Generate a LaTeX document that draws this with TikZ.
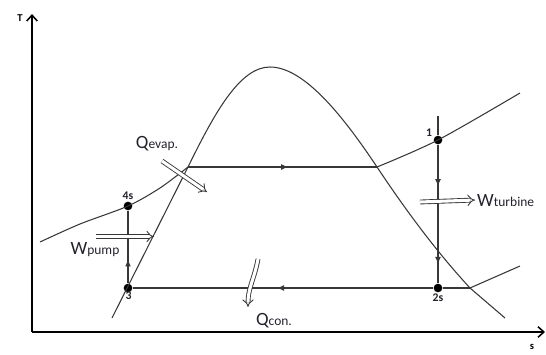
\documentclass[tikz,border=0pt]{standalone}
\usepackage{fontspec}
\setmainfont{Carlito}
\usetikzlibrary{arrows.meta, positioning, decorations.markings}
\definecolor{linegray}{RGB}{55, 55, 55}
\definecolor{txtgray}{RGB}{35, 35, 45}
\newcommand{\enlabel}[2]{{\fontsize{16}{16}\selectfont #1}{\fontsize{11.5}{12}\selectfont #2}}

\begin{document}
\begin{tikzpicture}[
    x=0.03cm, y=-0.03cm,
    axis/.style={line width=1.3pt, -{Straight Barb[length=5pt, width=9pt]}},
    curve/.style={line width=0.9pt, linegray},
    state/.style={circle, fill=black, inner sep=0pt, minimum size=2.6mm},
    statelbl/.style={font=\fontsize{10}{12}\selectfont\bfseries, text=txtgray, inner sep=1pt},
    axlbl/.style={font=\fontsize{9}{10}\selectfont\bfseries, inner sep=0pt},
    enlbl/.style={text=txtgray, inner sep=0pt},
    energy/.style={double=white, double distance=2.6pt, line width=0.75pt, draw=linegray, -{Implies}},
    midarrow/.style={postaction={decorate}, decoration={markings,
        mark=at position #1 with {\arrow{Latex[length=6pt, width=5pt]}}}},
    twoarrows/.style 2 args={postaction={decorate}, decoration={markings,
        mark=at position #1 with {\arrow{Latex[length=6pt, width=5pt]}},
        mark=at position #2 with {\arrow{Latex[length=6pt, width=5pt]}}}}
]
    \useasboundingbox (0,0) rectangle (546,354);

    % Axes
    \coordinate (origin) at (32,332);
    \coordinate (Ttip) at (32,14);
    \coordinate (stip) at (545,332);
    \draw[axis] (origin) -- (Ttip);
    \draw[axis] (origin) -- (stip);
    \node[axlbl] (Tlbl) at (20,18) {T};
    \node[axlbl] (slbl) at (532,347) {s};

    % States
    \node[state] (p1) at (438,140) {};
    \node[state] (p2s) at (438,288) {};
    \node[state] (p3) at (128,288) {};
    \node[state] (p4s) at (128,206) {};
    \node[statelbl, left=0pt of p1, yshift=6pt] {1};
    \node[statelbl, below=0pt of p2s] {2s};
    \node[statelbl, below right=-1pt and -6pt of p3] {3};
    \node[statelbl, above=0pt of p4s] {4s};

    % Saturation points
    \coordinate (satL) at (188,167);
    \coordinate (satV) at (377,167);
    \coordinate (satB) at (470,288);
    \coordinate (peak) at (270,67);
    \coordinate (p1top) at (438,116);

    % Dome
    \draw[curve] (112,318) -- (satL)
        .. controls (215,112) and (240,67) .. (peak)
        .. controls (305,67) and (345,119) .. (satV)
        .. controls (405,209) and (435,250) .. (satB) -- (505,318);

    % Isobars
    \draw[curve] plot[smooth] coordinates {(40,242) (80,224) (p4s.center) (160,188) (satL)};
    \draw[curve, midarrow=0.53] (satL) -- (satV);
    \draw[curve] plot[smooth] coordinates {(satV) (p1.center) (520,93)};
    \draw[curve] (satB) -- (520,266);

    % Processes
    \draw[curve] (p1top) -- (p1);
    \draw[curve, twoarrows={0.3}{0.86}] (p1) -- (p2s);
    \draw[curve] (p2s) -- (satB);
    \draw[curve, midarrow=0.52] (p2s) -- (p3);
    \draw[curve, midarrow=0.33] (p3) -- (p4s);

    % Heat and work
    \node[enlbl] (qevap) at (157,144) {\enlabel{Q}{evap.}};
    \node[enlbl] (wpump) at (95,250) {\enlabel{W}{pump}};
    \node[enlbl, anchor=west] (wturb) at (477,201) {\enlabel{W}{turbine}};
    \node[enlbl] (qcon) at (274,321) {\enlabel{Q}{con.}};
    \coordinate (wpS) at (96,236.5);
    \coordinate (wpE) at (154,236.5);
    \draw[energy] (162,161) -- (207,192);
    \draw[energy] (wpS) -- (wpE);
    \draw[energy] (420,202) -- (475,200);
    \draw[energy] (258,259) to[out=-100, in=90] (248,307);
\end{tikzpicture}
\end{document}
